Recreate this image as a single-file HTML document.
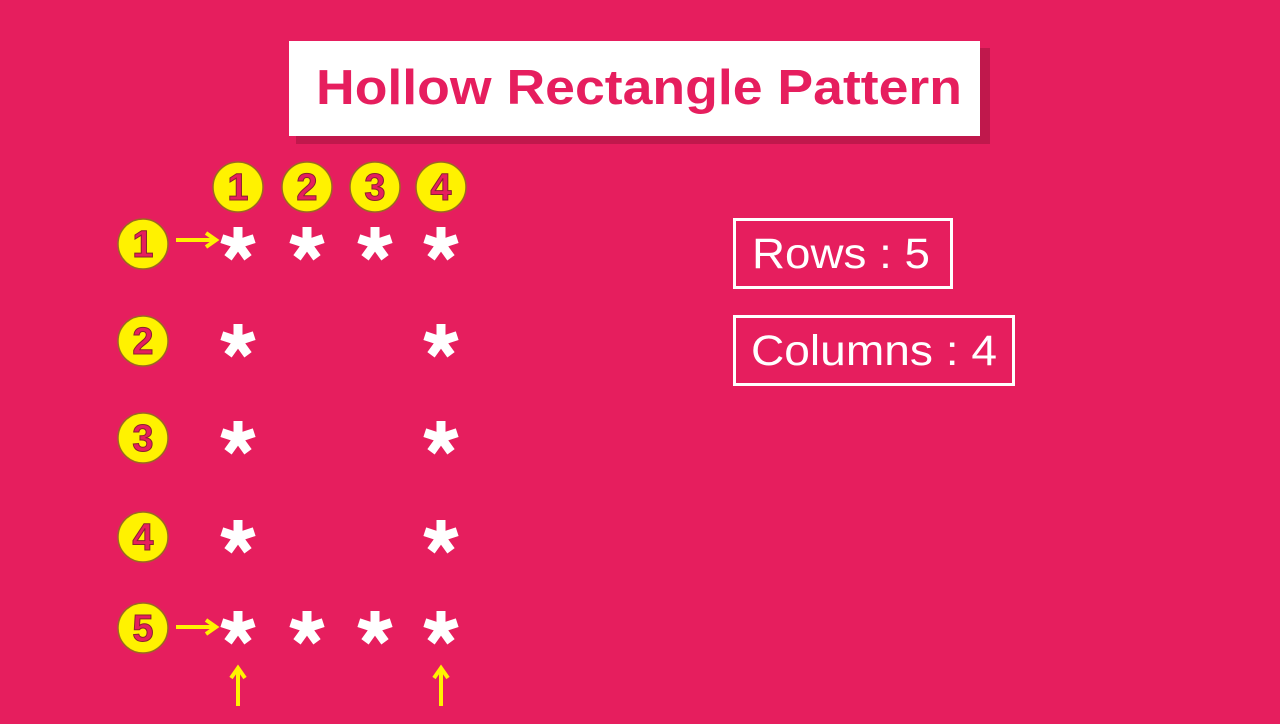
<!DOCTYPE html>
<html><head><meta charset="utf-8"><style>
body{margin:0;width:1280px;height:719px;overflow:hidden;background:#E61E5E;font-family:"Liberation Sans",sans-serif}
</style></head><body>
<svg width="1280" height="719" viewBox="0 0 1280 719" id="svg">
<rect x="0" y="0" width="1280" height="719" fill="#E61E5E"/>
<rect x="296" y="48" width="694" height="96" fill="#C0184C"/>
<rect x="289" y="41" width="691" height="95" fill="#fff"/>
<text x="639" y="104" text-anchor="middle" font-size="49" font-weight="bold" fill="#E61E5E" textLength="646" lengthAdjust="spacingAndGlyphs">Hollow Rectangle Pattern</text>
<rect x="734.5" y="219.5" width="217" height="68" fill="none" stroke="#fff" stroke-width="3"/>
<text x="752" y="268" font-size="43" fill="#fff" textLength="178" lengthAdjust="spacingAndGlyphs">Rows : 5</text>
<rect x="734.5" y="316.5" width="279" height="68" fill="none" stroke="#fff" stroke-width="3"/>
<text x="751" y="365" font-size="43" fill="#fff" textLength="246" lengthAdjust="spacingAndGlyphs">Columns : 4</text>
<g id="marks"></g>
</svg>
<script>
const colLabels=[1,2,3,4];
const rowLabels=[1,2,3,4,5];
const colX=[238,307,375,441];
const rowY=[244,341,438,537,628];
const NS="http://www.w3.org/2000/svg";
const g=document.getElementById('marks');
function mk(t,a){const e=document.createElementNS(NS,t);for(const k in a)e.setAttribute(k,a[k]);g.appendChild(e);return e;}
function circle(cx,cy,n,name){
  const c=mk('circle',{cx:cx,cy:cy,r:25,fill:'#FFF200',stroke:'#9a6a20','stroke-width':1.5});
  
  
  const t=mk('text',{x:cx,y:cy+13,'text-anchor':'middle','font-size':38,'font-weight':'bold',fill:'#E61E5E',stroke:'#8a2030','stroke-width':1});
  t.textContent=n;
  
  
}
function star(cx,cy,name){
  let d='';
  for(let k=0;k<5;k++){const a=(-90+72*k)*Math.PI/180;d+=`M${cx} ${cy}L${(cx+17*Math.cos(a)).toFixed(1)} ${(cy+17*Math.sin(a)).toFixed(1)}`;}
  const p=mk('path',{d:d,stroke:'#fff','stroke-width':9,'stroke-linecap':'butt',fill:'none'});
  
  
}
function arrow(x1,y1,x2,y2,name){
  const dx=x2-x1,dy=y2-y1,L=Math.hypot(dx,dy),ux=dx/L,uy=dy/L;
  const bx=x2-ux*10,by=y2-uy*10;
  const p=mk('path',{d:`M${x1} ${y1}L${x2} ${y2}M${bx-uy*7} ${by+ux*7}L${x2} ${y2}L${bx+uy*7} ${by-ux*7}`,stroke:'#FFF200','stroke-width':4,fill:'none'});
  
  
}
colLabels.forEach((n,i)=>circle(colX[i],187,n,'column-'+n));
rowLabels.forEach((n,j)=>{
  circle(143,rowY[j],n,'row-'+n);
  colLabels.forEach((c,i)=>{
    if(j===0||j===rowLabels.length-1||i===0||i===colLabels.length-1) star(colX[i],rowY[j],'star-r'+n+'-c'+c);
  });
});
arrow(176,rowY[0]-4,216,rowY[0]-4,'row-1-arrow');
arrow(176,rowY[4]-1,216,rowY[4]-1,'row-5-arrow');
arrow(colX[0],706,colX[0],668,'first-column-arrow');
arrow(colX[3],706,colX[3],668,'last-column-arrow');
</script>
</body></html>
